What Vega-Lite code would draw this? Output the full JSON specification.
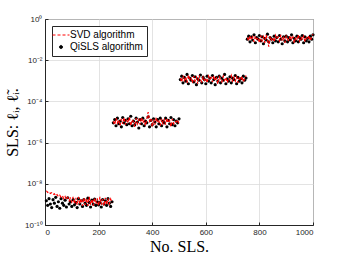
{
"$schema": "https://vega.github.io/schema/vega-lite/v6.json",
"width": 268, "height": 206,
"autosize": {"type": "none"},
"padding": {"left": 45, "top": 19, "right": 33, "bottom": 35},
"background": "white",
"config": {
  "view": {"stroke": "#262626", "strokeWidth": 1},
  "axis": {"domainColor": "#262626", "tickColor": "#262626", "tickSize": -3, "labelFont": "Liberation Sans", "labelFontSize": 8, "labelColor": "#262626", "gridColor": "#dcdcdc", "gridWidth": 0.8, "titleFont": "Liberation Serif", "titleFontSize": 16, "titleFontWeight": "normal", "titleColor": "#000000", "labelPadding": 6},
  "legend": {"orient": "top-left", "offset": 7, "fillColor": "white", "strokeColor": "#262626", "padding": 4, "labelFont": "Liberation Sans", "labelFontSize": 10, "labelColor": "#000000", "symbolSize": 289, "rowPadding": 2, "labelOffset": 4}
},
"data": {"values": [
{"x":5,"g":1,"s":4.6e-9,"q":1.5e-9},{"x":10,"g":1,"s":3.8e-9,"q":0.9e-9},{"x":15,"g":1,"s":4.2e-9,"q":1.9e-9},{"x":20,"g":1,"s":3.4e-9,"q":1.05e-9},{"x":25,"g":1,"s":3.7e-9,"q":0.7e-9},
{"x":30,"g":1,"s":3.0e-9,"q":1.7e-9},{"x":35,"g":1,"s":3.3e-9,"q":1.15e-9},{"x":40,"g":1,"s":2.6e-9,"q":2.2e-9},{"x":45,"g":1,"s":3.0e-9,"q":0.8e-9},{"x":50,"g":1,"s":2.4e-9,"q":1.35e-9},
{"x":55,"g":1,"s":2.8e-9,"q":0.65e-9},{"x":60,"g":1,"s":2.2e-9,"q":1.9e-9},{"x":65,"g":1,"s":2.6e-9,"q":1.15e-9},{"x":70,"g":1,"s":1.9e-9,"q":0.9e-9},{"x":75,"g":1,"s":2.4e-9,"q":1.6e-9},
{"x":80,"g":1,"s":1.7e-9,"q":0.75e-9},{"x":85,"g":1,"s":2.2e-9,"q":2.1e-9},{"x":90,"g":1,"s":1.5e-9,"q":1.05e-9},{"x":95,"g":1,"s":2.0e-9,"q":1.35e-9},{"x":100,"g":1,"s":1.3e-9,"q":0.8e-9},
{"x":105,"g":1,"s":2.3e-9,"q":1.7e-9},{"x":110,"g":1,"s":1.05e-9,"q":0.95e-9},{"x":115,"g":1,"s":2.1e-9,"q":1.25e-9},{"x":120,"g":1,"s":0.95e-9,"q":0.7e-9},{"x":125,"g":1,"s":2.3e-9,"q":1.9e-9},
{"x":130,"g":1,"s":1.05e-9,"q":1.05e-9},{"x":135,"g":1,"s":1.95e-9,"q":1.5e-9},{"x":140,"g":1,"s":0.85e-9,"q":0.8e-9},{"x":145,"g":1,"s":2.1e-9,"q":1.7e-9},{"x":150,"g":1,"s":0.95e-9,"q":1.15e-9},
{"x":155,"g":1,"s":1.95e-9,"q":0.9e-9},{"x":160,"g":1,"s":0.85e-9,"q":2.0e-9},{"x":165,"g":1,"s":2.3e-9,"q":1.25e-9},{"x":170,"g":1,"s":0.95e-9,"q":0.75e-9},{"x":175,"g":1,"s":1.8e-9,"q":1.6e-9},
{"x":180,"g":1,"s":0.85e-9,"q":1.05e-9},{"x":185,"g":1,"s":2.1e-9,"q":1.8e-9},{"x":190,"g":1,"s":1.05e-9,"q":0.9e-9},{"x":195,"g":1,"s":1.95e-9,"q":1.35e-9},{"x":200,"g":1,"s":0.85e-9,"q":0.95e-9},
{"x":205,"g":1,"s":2.3e-9,"q":1.25e-9},{"x":210,"g":1,"s":0.95e-9,"q":0.75e-9},{"x":215,"g":1,"s":1.8e-9,"q":1.7e-9},{"x":220,"g":1,"s":0.85e-9,"q":1.05e-9},{"x":225,"g":1,"s":2.1e-9,"q":1.5e-9},
{"x":230,"g":1,"s":0.95e-9,"q":0.9e-9},{"x":235,"g":1,"s":1.95e-9,"q":1.9e-9},{"x":240,"g":1,"s":1.05e-9,"q":1.15e-9},{"x":245,"g":1,"s":1.8e-9,"q":0.8e-9},{"x":250,"g":1,"s":1.15e-9,"q":1.35e-9},
{"x":255,"g":2,"s":1.1e-5,"q":0.91e-5},{"x":260,"g":2,"s":0.74e-5,"q":1.31e-5},{"x":265,"g":2,"s":1.54e-5,"q":0.66e-5},{"x":270,"g":2,"s":0.91e-5,"q":1.54e-5},{"x":275,"g":2,"s":1.31e-5,"q":0.82e-5},
{"x":280,"g":2,"s":0.66e-5,"q":1.1e-5},{"x":285,"g":2,"s":1.42e-5,"q":0.58e-5},{"x":290,"g":2,"s":0.82e-5,"q":1.66e-5},{"x":295,"g":2,"s":1.66e-5,"q":0.91e-5},{"x":300,"g":2,"s":0.74e-5,"q":1.2e-5},
{"x":305,"g":2,"s":1.2e-5,"q":0.74e-5},{"x":310,"g":2,"s":0.91e-5,"q":1.42e-5},{"x":315,"g":2,"s":1.78e-5,"q":0.82e-5},{"x":320,"g":2,"s":0.66e-5,"q":1.91e-5},{"x":325,"g":2,"s":1.31e-5,"q":0.66e-5},
{"x":330,"g":2,"s":1.0e-5,"q":1.1e-5},{"x":335,"g":2,"s":0.58e-5,"q":0.74e-5},{"x":340,"g":2,"s":1.54e-5,"q":1.54e-5},{"x":345,"g":2,"s":0.82e-5,"q":1.0e-5},{"x":350,"g":2,"s":1.31e-5,"q":0.51e-5},
{"x":355,"g":2,"s":0.74e-5,"q":1.31e-5},{"x":360,"g":2,"s":1.66e-5,"q":0.82e-5},{"x":365,"g":2,"s":0.91e-5,"q":1.54e-5},{"x":370,"g":2,"s":1.2e-5,"q":0.66e-5},{"x":375,"g":2,"s":0.66e-5,"q":1.1e-5},
{"x":380,"g":2,"s":1.42e-5,"q":0.91e-5},{"x":385,"g":2,"s":3.0e-5,"q":1.78e-5},{"x":390,"g":2,"s":1.1e-5,"q":0.58e-5},{"x":395,"g":2,"s":1.54e-5,"q":1.2e-5},{"x":400,"g":2,"s":0.58e-5,"q":0.74e-5},
{"x":405,"g":2,"s":1.31e-5,"q":1.42e-5},{"x":410,"g":2,"s":0.74e-5,"q":1.0e-5},{"x":415,"g":2,"s":1.66e-5,"q":0.58e-5},{"x":420,"g":2,"s":0.91e-5,"q":1.31e-5},{"x":425,"g":2,"s":1.1e-5,"q":0.82e-5},
{"x":430,"g":2,"s":0.66e-5,"q":1.54e-5},{"x":435,"g":2,"s":1.42e-5,"q":0.66e-5},{"x":440,"g":2,"s":0.82e-5,"q":1.1e-5},{"x":445,"g":2,"s":1.31e-5,"q":0.91e-5},{"x":450,"g":2,"s":0.74e-5,"q":1.54e-5},
{"x":455,"g":2,"s":1.54e-5,"q":0.58e-5},{"x":460,"g":2,"s":0.91e-5,"q":1.2e-5},{"x":465,"g":2,"s":1.2e-5,"q":0.82e-5},{"x":470,"g":2,"s":0.58e-5,"q":1.66e-5},{"x":475,"g":2,"s":1.42e-5,"q":0.74e-5},
{"x":480,"g":2,"s":0.82e-5,"q":1.31e-5},{"x":485,"g":2,"s":1.1e-5,"q":0.66e-5},{"x":490,"g":2,"s":1.0e-5,"q":1.1e-5},{"x":495,"g":2,"s":1.31e-5,"q":0.91e-5},{"x":500,"g":2,"s":0.74e-5,"q":1.42e-5},
{"x":505,"g":3,"s":1.35e-3,"q":1.15e-3},{"x":510,"g":3,"s":0.88e-3,"q":1.68e-3},{"x":515,"g":3,"s":1.8e-3,"q":0.8e-3},{"x":520,"g":3,"s":1.06e-3,"q":1.46e-3},{"x":525,"g":3,"s":1.57e-3,"q":0.97e-3},
{"x":530,"g":3,"s":0.8e-3,"q":2.05e-3},{"x":535,"g":3,"s":1.92e-3,"q":0.72e-3},{"x":540,"g":3,"s":1.15e-3,"q":1.35e-3},{"x":545,"g":3,"s":1.35e-3,"q":1.06e-3},{"x":550,"g":3,"s":0.8e-3,"q":1.8e-3},
{"x":555,"g":3,"s":1.68e-3,"q":0.88e-3},{"x":560,"g":3,"s":0.97e-3,"q":1.57e-3},{"x":565,"g":3,"s":1.46e-3,"q":0.65e-3},{"x":570,"g":3,"s":0.72e-3,"q":1.25e-3},{"x":575,"g":3,"s":1.8e-3,"q":1.06e-3},
{"x":580,"g":3,"s":1.15e-3,"q":1.92e-3},{"x":585,"g":3,"s":0.88e-3,"q":0.8e-3},{"x":590,"g":3,"s":1.57e-3,"q":1.46e-3},{"x":595,"g":3,"s":1.06e-3,"q":1.15e-3},{"x":600,"g":3,"s":1.35e-3,"q":0.72e-3},
{"x":605,"g":3,"s":0.8e-3,"q":1.68e-3},{"x":610,"g":3,"s":1.68e-3,"q":0.97e-3},{"x":615,"g":3,"s":1.15e-3,"q":1.35e-3},{"x":620,"g":3,"s":1.46e-3,"q":0.8e-3},{"x":625,"g":3,"s":0.88e-3,"q":1.8e-3},
{"x":630,"g":3,"s":1.8e-3,"q":1.15e-3},{"x":635,"g":3,"s":0.97e-3,"q":0.65e-3},{"x":640,"g":3,"s":1.35e-3,"q":1.46e-3},{"x":645,"g":3,"s":0.72e-3,"q":0.97e-3},{"x":650,"g":3,"s":1.57e-3,"q":1.68e-3},
{"x":655,"g":3,"s":1.15e-3,"q":0.8e-3},{"x":660,"g":3,"s":0.88e-3,"q":1.35e-3},{"x":665,"g":3,"s":1.68e-3,"q":1.06e-3},{"x":670,"g":3,"s":1.06e-3,"q":2.05e-3},{"x":675,"g":3,"s":1.46e-3,"q":0.72e-3},
{"x":680,"g":3,"s":0.8e-3,"q":1.25e-3},{"x":685,"g":3,"s":1.35e-3,"q":0.97e-3},{"x":690,"g":3,"s":1.15e-3,"q":1.57e-3},{"x":695,"g":3,"s":1.8e-3,"q":0.8e-3},{"x":700,"g":3,"s":0.88e-3,"q":1.35e-3},
{"x":705,"g":3,"s":1.46e-3,"q":1.15e-3},{"x":710,"g":3,"s":0.97e-3,"q":1.8e-3},{"x":715,"g":3,"s":1.57e-3,"q":0.72e-3},{"x":720,"g":3,"s":0.8e-3,"q":1.46e-3},{"x":725,"g":3,"s":1.35e-3,"q":0.97e-3},
{"x":730,"g":3,"s":1.06e-3,"q":1.25e-3},{"x":735,"g":3,"s":1.68e-3,"q":0.8e-3},{"x":740,"g":3,"s":0.88e-3,"q":1.68e-3},{"x":745,"g":3,"s":1.25e-3,"q":1.06e-3},{"x":750,"g":3,"s":1.8e-3,"q":1.35e-3},
{"x":755,"g":4,"s":1.25e-1,"q":1.05e-1},{"x":760,"g":4,"s":0.87e-1,"q":1.47e-1},{"x":765,"g":4,"s":1.58e-1,"q":0.78e-1},{"x":770,"g":4,"s":0.96e-1,"q":1.36e-1},{"x":775,"g":4,"s":1.36e-1,"q":0.96e-1},
{"x":780,"g":4,"s":0.78e-1,"q":1.7e-1},{"x":785,"g":4,"s":1.47e-1,"q":0.7e-1},{"x":790,"g":4,"s":1.05e-1,"q":1.25e-1},{"x":795,"g":4,"s":1.25e-1,"q":1.05e-1},{"x":800,"g":4,"s":0.7e-1,"q":1.58e-1},
{"x":805,"g":4,"s":1.58e-1,"q":0.87e-1},{"x":810,"g":4,"s":0.87e-1,"q":1.36e-1},{"x":815,"g":4,"s":1.36e-1,"q":0.63e-1},{"x":820,"g":4,"s":0.7e-1,"q":1.15e-1},{"x":825,"g":4,"s":1.7e-1,"q":0.96e-1},
{"x":830,"g":4,"s":1.05e-1,"q":1.83e-1},{"x":835,"g":4,"s":0.45e-1,"q":0.78e-1},{"x":840,"g":4,"s":1.47e-1,"q":1.25e-1},{"x":845,"g":4,"s":0.96e-1,"q":1.05e-1},{"x":850,"g":4,"s":1.25e-1,"q":0.7e-1},
{"x":855,"g":4,"s":0.78e-1,"q":1.47e-1},{"x":860,"g":4,"s":1.58e-1,"q":0.87e-1},{"x":865,"g":4,"s":1.05e-1,"q":1.25e-1},{"x":870,"g":4,"s":1.36e-1,"q":0.78e-1},{"x":875,"g":4,"s":0.87e-1,"q":1.58e-1},
{"x":880,"g":4,"s":1.7e-1,"q":1.05e-1},{"x":885,"g":4,"s":0.96e-1,"q":0.63e-1},{"x":890,"g":4,"s":1.25e-1,"q":1.36e-1},{"x":895,"g":4,"s":0.7e-1,"q":0.87e-1},{"x":900,"g":4,"s":1.47e-1,"q":1.47e-1},
{"x":905,"g":4,"s":1.05e-1,"q":0.78e-1},{"x":910,"g":4,"s":0.87e-1,"q":1.25e-1},{"x":915,"g":4,"s":1.58e-1,"q":0.96e-1},{"x":920,"g":4,"s":0.96e-1,"q":1.7e-1},{"x":925,"g":4,"s":1.36e-1,"q":0.7e-1},
{"x":930,"g":4,"s":0.7e-1,"q":1.15e-1},{"x":935,"g":4,"s":1.25e-1,"q":0.87e-1},{"x":940,"g":4,"s":1.05e-1,"q":1.47e-1},{"x":945,"g":4,"s":1.7e-1,"q":0.78e-1},{"x":950,"g":4,"s":0.87e-1,"q":1.25e-1},
{"x":955,"g":4,"s":1.36e-1,"q":1.05e-1},{"x":960,"g":4,"s":0.96e-1,"q":1.58e-1},{"x":965,"g":4,"s":1.47e-1,"q":0.7e-1},{"x":970,"g":4,"s":0.78e-1,"q":1.36e-1},{"x":975,"g":4,"s":1.25e-1,"q":0.87e-1},
{"x":980,"g":4,"s":1.05e-1,"q":1.15e-1},{"x":985,"g":4,"s":1.58e-1,"q":0.78e-1},{"x":990,"g":4,"s":0.87e-1,"q":1.47e-1},{"x":995,"g":4,"s":1.36e-1,"q":1.05e-1},{"x":1000,"g":4,"s":1.83e-1,"q":1.7e-1}
]},
"transform": [{"fold": ["s", "q"], "as": ["series", "v"]}],
"encoding": {
  "x": {"field": "x", "type": "quantitative", "scale": {"domain": [0, 1000], "nice": false}, "axis": {"values": [0, 200, 400, 600, 800, 1000], "format": "d", "title": "No. SLS.", "titlePadding": 2}},
  "y": {"field": "v", "type": "quantitative", "scale": {"type": "log", "domain": [1e-10, 1]}, "axis": {"values": [1e-10, 1e-8, 1e-6, 1e-4, 1e-2, 1], "title": "SLS: ℓᵢ, ℓ̃ᵢ.", "titlePadding": 4, "labelExpr": "datum.value >= 0.5 ? '10⁰' : datum.value >= 0.005 ? '10⁻²' : datum.value >= 0.00005 ? '10⁻⁴' : datum.value >= 0.0000005 ? '10⁻⁶' : datum.value >= 0.000000005 ? '10⁻⁸' : '10⁻¹⁰'"}},
  "color": {"field": "series", "type": "nominal", "scale": {"domain": ["s", "q"], "range": ["#ff0000", "#000000"]}, "legend": {"title": null, "labelExpr": "datum.value == 's' ? 'SVD algorithm' : 'QiSLS algorithm'", "encode": {"symbols": {"update": {
      "shape": {"signal": "datum.value == 's' ? 'stroke' : 'circle'"},
      "size": {"signal": "datum.value == 's' ? 289 : 10"},
      "fill": {"signal": "datum.value == 's' ? 'transparent' : '#000000'"},
      "stroke": {"signal": "datum.value == 's' ? '#ff0000' : 'transparent'"},
      "strokeDash": {"signal": "datum.value == 's' ? [3, 2] : [1, 0]"},
      "strokeWidth": {"value": 1},
      "opacity": {"value": 1}
  }}}}}
},
"layer": [
  {"transform": [{"filter": "datum.series == 'q'"}], "mark": {"type": "point", "filled": true, "size": 10, "opacity": 1, "strokeWidth": 0, "shape": "circle"}},
  {"transform": [{"filter": "datum.series == 's'"}], "mark": {"type": "line", "strokeWidth": 1.2, "strokeDash": [3, 2]}, "encoding": {"detail": {"field": "g"}}}
]
}
